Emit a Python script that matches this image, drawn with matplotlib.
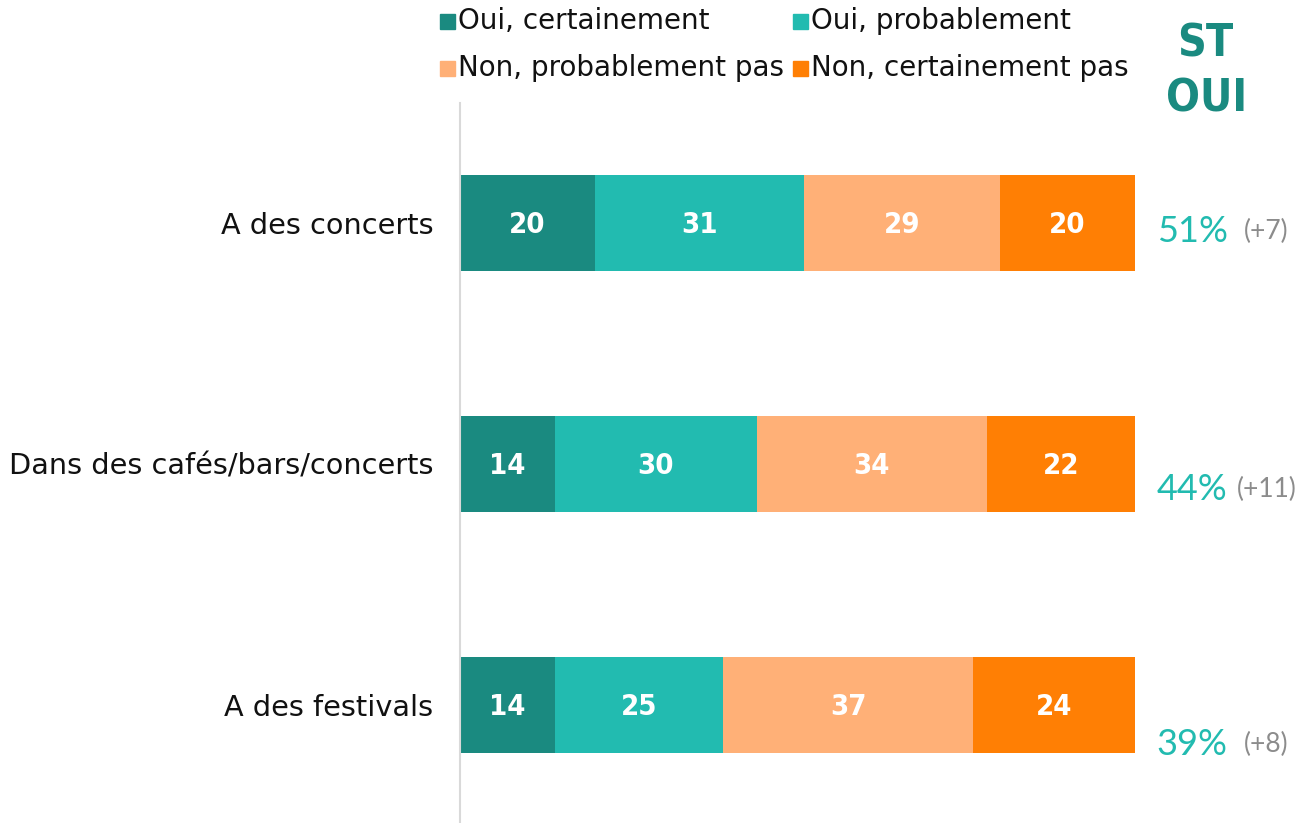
import matplotlib
matplotlib.use("Agg")
import matplotlib.pyplot as plt
from matplotlib.patches import Rectangle

plt.rcParams['font.family'] = ['DejaVu Sans']

# data
categories = ["A des concerts", "Dans des cafés/bars/concerts", "A des festivals"]
series_names = ["Oui, certainement", "Oui, probablement",
                "Non, probablement pas", "Non, certainement pas"]
oui_cert = [20, 14, 14]
oui_prob = [31, 30, 25]
non_prob = [29, 34, 37]
non_cert = [20, 22, 24]
st_oui = ["51%", "44%", "39%"]
deltas = ["(+7)", "(+11)", "(+8)"]

colors = ["#1A8A80", "#22BBB0", "#FFB077", "#FF7F04"]

W, H = 1299, 823
fig = plt.figure(figsize=(W / 100, H / 100), dpi=100)
ax = fig.add_axes([460 / W, 0, (1135 - 460) / W, (823 - 103) / H])

series = [oui_cert, oui_prob, non_prob, non_cert]
ypos = list(range(len(categories)))
left = [0] * len(categories)
for vals, col in zip(series, colors):
    bars = ax.barh(ypos, vals, left=left, height=0.4, color=col, edgecolor="none")
    for b, v in zip(bars, vals):
        ax.text(b.get_x() + b.get_width() / 2, b.get_y() + b.get_height() / 2 + 0.01, str(v),
                ha="center", va="center", color="white", fontsize=21, fontweight="bold",
                fontstretch="condensed")
    left = [l + v for l, v in zip(left, vals)]

ax.set_xlim(0, 100)
ax.set_ylim(2.49, -0.498)
ax.set_yticks(ypos)
ax.set_yticklabels(categories, fontsize=20.7, color="#111111")
ax.tick_params(axis="y", length=0, pad=19)
ax.set_xticks([])
for s in ["top", "right", "bottom"]:
    ax.spines[s].set_visible(False)
ax.spines["left"].set_color("#D9D9D9")
ax.spines["left"].set_linewidth(1.5)

# ST OUI column
offs = [0.037, 0.104, 0.166]
for i, (p, d) in enumerate(zip(st_oui, deltas)):
    ax.text(103.2, i + offs[i], p, ha="left", va="center", color="#22BBB0", fontsize=26,
            family="Lato", clip_on=False)
    ax.text(119.5, i + offs[i], d, ha="center", va="center", color="#8C8C8C", fontsize=19,
            family="Lato", clip_on=False)

fig.text(1205 / W, 1 - 44 / H, "ST", ha="center", va="center", color="#1A8A80",
         fontsize=32, fontweight="bold", fontstretch="condensed")
fig.text(1207 / W, 1 - 99 / H, "OUI", ha="center", va="center", color="#1A8A80",
         fontsize=32, fontweight="bold", fontstretch="condensed")

# legend drawn by hand
leg_pos = [(440, 21), (793, 21), (440, 68), (793, 68)]
for (lx, ly), name, col in zip(leg_pos, series_names, colors):
    fig.patches.append(Rectangle((lx / W, 1 - (ly + 7.5) / H), 15 / W, 15 / H,
                                 color=col, transform=fig.transFigure, figure=fig))
    fig.text((lx + 18) / W, 1 - ly / H, name, ha="left", va="center",
             fontsize=20, color="#111111")

fig.savefig("out.png", dpi=100)
